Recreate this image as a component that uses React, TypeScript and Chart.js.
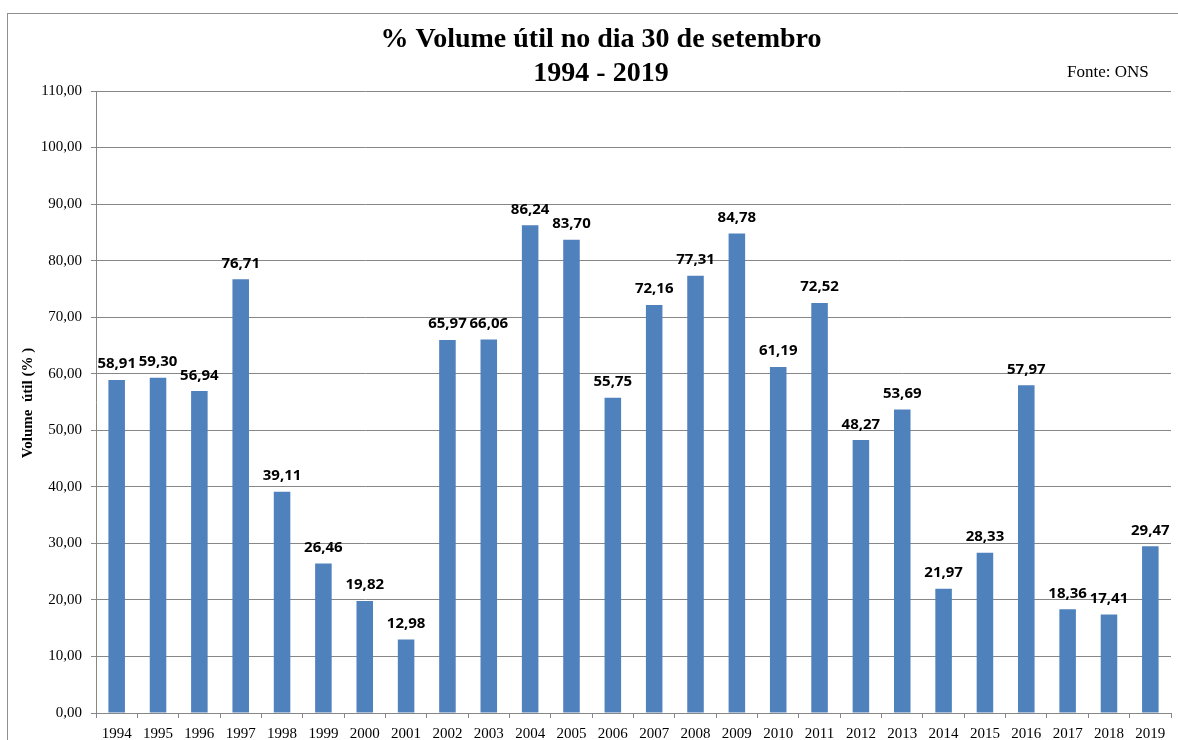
import React, { useEffect, useRef } from "react";
import { Chart, registerables } from "chart.js";

Chart.register(...registerables);

const years: string[] = [
  "1994", "1995", "1996", "1997", "1998", "1999", "2000", "2001", "2002",
  "2003", "2004", "2005", "2006", "2007", "2008", "2009", "2010", "2011",
  "2012", "2013", "2014", "2015", "2016", "2017", "2018", "2019",
];

const volumeUtil: number[] = [
  58.91, 59.3, 56.94, 76.71, 39.11, 26.46, 19.82, 12.98, 65.97, 66.06, 86.24,
  83.7, 55.75, 72.16, 77.31, 84.78, 61.19, 72.52, 48.27, 53.69, 21.97, 28.33,
  57.97, 18.36, 17.41, 29.47,
];

const titleLines: string[] = ["% Volume útil no dia 30 de setembro", "1994 - 2019"];
const sourceText = "Fonte: ONS";
const yAxisTitle = "Volume  útil (% )";

const fmt = (v: number) => v.toFixed(2).replace(".", ",");

const SERIF = "'Liberation Serif', 'Times New Roman', serif";
const LABEL_FONT = "'Open Sans', sans-serif";
const GRID = "#878787";
const BAR = "#4F81BD";

const decorPlugin = {
  id: "decor",
  beforeDraw(chart: any) {
    const ctx = chart.ctx;
    ctx.save();
    ctx.fillStyle = "#ffffff";
    ctx.fillRect(0, 0, chart.width, chart.height);
    ctx.restore();
  },
  afterDraw(chart: any) {
    const ctx = chart.ctx;
    ctx.save();
    // outer frame
    ctx.strokeStyle = "#8f8f8f";
    ctx.lineWidth = 1;
    ctx.strokeRect(7.5, 13.5, 1300, 900);

    // title
    ctx.fillStyle = "#000";
    ctx.textAlign = "center";
    ctx.textBaseline = "alphabetic";
    ctx.font = `bold 28px ${SERIF}`;
    ctx.fillText(titleLines[0], 601, 47);
    ctx.fillText(titleLines[1], 601, 81);

    // source
    ctx.textAlign = "left";
    ctx.font = `17px ${SERIF}`;
    ctx.fillText(sourceText, 1067, 77);

    // y axis title
    ctx.save();
    ctx.translate(32, 403);
    ctx.rotate(-Math.PI / 2);
    ctx.textAlign = "center";
    ctx.textBaseline = "alphabetic";
    ctx.font = `bold 15px ${SERIF}`;
    ctx.fillText(yAxisTitle, 0, 0);
    ctx.restore();

    // data labels
    const meta = chart.getDatasetMeta(0);
    ctx.font = `bold 15px ${LABEL_FONT}`;
    ctx.textAlign = "center";
    ctx.textBaseline = "alphabetic";
    ctx.fillStyle = "#000";
    meta.data.forEach((bar: any, i: number) => {
      const v = chart.data.datasets[0].data[i] as number;
      ctx.fillText(fmt(v), bar.x, bar.y - 11.5);
    });
    ctx.restore();
  },
};

export default function App() {
  const ref = useRef<HTMLCanvasElement | null>(null);

  useEffect(() => {
    document.body.style.margin = "0";
    const canvas = ref.current;
    if (!canvas) return;
    const chart = new Chart(canvas, {
      type: "bar",
      data: {
        labels: years,
        datasets: [
          {
            label: "Volume útil",
            data: volumeUtil,
            backgroundColor: BAR,
            borderWidth: 0,
            barPercentage: 0.4,
            categoryPercentage: 1,
          },
        ],
      },
      options: {
        responsive: false,
        animation: false,
        devicePixelRatio: 1,
        layout: { padding: { top: 91, left: 0, right: 7, bottom: 0 } },
        plugins: {
          legend: { display: false },
          title: { display: false },
          tooltip: { enabled: false },
        },
        scales: {
          x: {
            grid: {
              display: true,
              drawOnChartArea: false,
              drawTicks: true,
              tickLength: 5,
              color: GRID,
              offset: true,
            },
            border: { display: true, color: GRID, width: 1 },
            ticks: {
              color: "#000",
              font: { family: SERIF, size: 15 },
              padding: 7,
              maxRotation: 0,
              autoSkip: false,
            },
            afterFit: (s: any) => {
              s.height = 27;
            },
          },
          y: {
            min: 0,
            max: 110,
            grid: {
              color: GRID,
              drawTicks: true,
              tickLength: 5,
            },
            border: { display: true, color: GRID, width: 1 },
            ticks: {
              stepSize: 10,
              color: "#000",
              font: { family: SERIF, size: 15 },
              padding: 9,
              callback: (v: any) => fmt(Number(v)),
            },
            afterFit: (s: any) => {
              s.width = 96;
            },
          },
        },
      },
      plugins: [decorPlugin],
    });
    return () => chart.destroy();
  }, []);

  return (
    <div style={{ width: 1178, height: 740 }}>
      <canvas ref={ref} width={1178} height={740} style={{ display: "block" }} />
    </div>
  );
}
